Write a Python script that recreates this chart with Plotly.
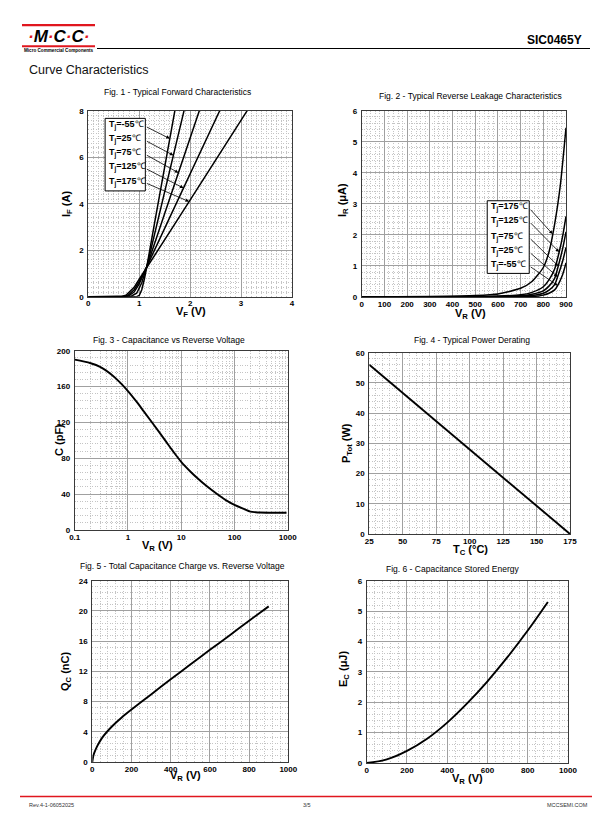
import numpy as np
import plotly.graph_objects as go

W, H = 612, 825
FONT = "Liberation Sans, Arial, sans-serif"

# ---------------- DATA ----------------
# Fig 1 - forward characteristics (VF in V, IF in A)
vf_m55 = [0, 0.95, 1.0, 1.05, 1.1, 1.15, 1.3, 1.5, 1.70]
if_m55 = [0, 0.0, 0.05, 0.3, 0.75, 1.3, 3.15, 5.6, 8.0]
vf_25 = [0, 0.75, 0.85, 0.95, 1.05, 1.15, 1.4, 1.65, 1.88]
if_25 = [0, 0.0, 0.03, 0.15, 0.6, 1.3, 3.6, 5.9, 8.0]
vf_75 = [0, 0.7, 0.8, 0.9, 1.0, 1.15, 1.5, 1.85, 2.18]
if_75 = [0, 0.0, 0.05, 0.2, 0.55, 1.3, 3.58, 5.85, 8.0]
vf_125 = [0, 0.68, 0.78, 0.9, 1.0, 1.15, 1.6, 2.1, 2.58]
if_125 = [0, 0.0, 0.06, 0.3, 0.65, 1.3, 3.41, 5.75, 8.0]
vf_175 = [0, 0.65, 0.75, 0.9, 1.0, 1.15, 1.7, 2.4, 3.12]
if_175 = [0, 0.0, 0.08, 0.4, 0.75, 1.25, 3.13, 5.53, 8.0]
fig1_labels = ["-55", "25", "75", "125", "175"]
fig1_arrow_x = [1.60, 1.67, 1.77, 1.87, 1.98]

# Fig 2 - reverse leakage (VR in V, IR in uA)
vr_175 = [0, 300, 500, 600, 700, 750, 800, 825, 850, 875, 900]
ir_175 = [0, 0.02, 0.05, 0.1, 0.28, 0.5, 0.95, 1.45, 2.35, 3.6, 5.45]
vr_125 = [0, 400, 600, 700, 750, 800, 825, 850, 870, 885, 900]
ir_125 = [0, 0.01, 0.03, 0.07, 0.15, 0.33, 0.55, 0.9, 1.45, 1.95, 2.6]
vr_75 = [0, 500, 700, 750, 800, 825, 850, 866, 885, 900]
ir_75 = [0, 0.01, 0.04, 0.09, 0.2, 0.35, 0.6, 1.0, 1.55, 2.1]
vr_25 = [0, 600, 750, 800, 825, 850, 863, 885, 900]
ir_25 = [0, 0.01, 0.05, 0.12, 0.22, 0.4, 0.65, 1.15, 1.6]
vr_m55 = [0, 650, 780, 800, 825, 850, 863, 885, 900]
ir_m55 = [0, 0.01, 0.03, 0.06, 0.12, 0.23, 0.37, 0.72, 1.1]
fig2_labels = ["175", "125", "75", "25", "-55"]
fig2_arrow_x = [841, 870, 866, 863, 863]

# Fig 3 - capacitance vs reverse voltage
vr_c = [0.1, 0.2, 0.3, 0.5, 0.7, 1, 1.5, 2, 3, 5, 7, 10, 15, 20, 30, 50, 70, 100, 150, 200, 250, 300, 500, 950]
cap = [190, 186, 182, 173, 165, 155, 142, 132, 118, 100, 88, 76, 65, 58, 49, 39, 33, 28, 23.5, 20.5, 19.8, 19.5, 19.3, 19.2]

# Fig 4 - power derating
tc = [25, 175]
ptot = [56, 0]

# Fig 5 - total capacitance charge
vr_q = [0, 5, 10, 25, 50, 100, 150, 200, 300, 400, 500, 600, 700, 800, 900]
qc = [0, 0.8, 1.2, 2.1, 3.2, 4.7, 5.9, 6.95, 8.95, 10.95, 12.9, 14.85, 16.75, 18.7, 20.6]

# Fig 6 - capacitance stored energy
vr_e = [0, 100, 200, 300, 400, 500, 600, 700, 800, 900]
ec = [0, 0.12, 0.40, 0.80, 1.33, 1.97, 2.69, 3.49, 4.36, 5.30]

# ---------------- LAYOUT HELPERS ----------------
def px(x):
    return x / W

def py(y):
    return 1 - y / H

# panel boxes in page pixels: (left, right, top, bottom)
panels = {
    1: (88.3, 292, 110.7, 296.7),
    2: (361.7, 566, 110.7, 297),
    3: (74.7, 287.7, 350.7, 530),
    4: (369.3, 570, 352.7, 534),
    5: (92.3, 288.3, 580.7, 762),
    6: (366.7, 568, 580.7, 763),
}

fig = go.Figure()

def add_line(i, x, y, width=1.6, shape="spline", smoothing=0.6):
    fig.add_trace(go.Scatter(
        x=x, y=y, mode="lines",
        line=dict(color="black", width=width, shape=shape, smoothing=smoothing),
        xaxis="x" if i == 1 else f"x{i}", yaxis="y" if i == 1 else f"y{i}",
        showlegend=False, hoverinfo="skip"))

fig1_series = [(vf_m55, if_m55), (vf_25, if_25), (vf_75, if_75), (vf_125, if_125), (vf_175, if_175)]
for x, y in fig1_series:
    add_line(1, x, y, 1.5, "linear")
fig2_series = [(vr_175, ir_175), (vr_125, ir_125), (vr_75, ir_75), (vr_25, ir_25), (vr_m55, ir_m55)]
for x, y in fig2_series:
    add_line(2, x, y, 1.5)
add_line(3, vr_c, cap, 1.9, smoothing=1.0)
add_line(4, tc, ptot, 1.9, "linear")
add_line(5, vr_q, qc, 1.9)
add_line(6, vr_e, ec, 1.9, smoothing=1.0)

MAJ = "#a0a0a0"
MIN = "#c4c4c4"

def axis(i, horiz, rng, dtick, minor_dtick, tickvals=None, ticktext=None, typ="linear"):
    l, r, t, b = panels[i]
    d = dict(
        range=rng, type=typ, showgrid=True, gridcolor=MAJ, gridwidth=1,
        zeroline=False, showline=True, linecolor="#3a3a3a", linewidth=1, mirror=True,
        ticks="", tickfont=dict(family=FONT, size=8, color="black", weight="bold"),
        minor=dict(showgrid=True, gridcolor=MIN, griddash="1px,1.5px", gridwidth=1, dtick=minor_dtick),
        fixedrange=True, automargin=False,
    )
    if tickvals is not None:
        d.update(tickmode="array", tickvals=tickvals, ticktext=ticktext)
    else:
        d.update(dtick=dtick, tick0=rng[0] if typ == "linear" else None)
    if horiz:
        d.update(domain=[px(l), px(r)], anchor="y" if i == 1 else f"y{i}", ticklabelstandoff=-1)
    else:
        d.update(domain=[py(b), py(t)], anchor="x" if i == 1 else f"x{i}", ticklabelstandoff=2)
    return d

lay = {}
axes_spec = {
    1: (dict(rng=[0, 4], dtick=1, minor_dtick=0.1), dict(rng=[0, 8], dtick=2, minor_dtick=0.2)),
    2: (dict(rng=[0, 900], dtick=100, minor_dtick=20), dict(rng=[0, 6], dtick=1, minor_dtick=0.2)),
    3: (dict(rng=[-1, 3], dtick=1, minor_dtick="D1", typ="log",
             tickvals=[0.1, 1, 10, 100, 1000], ticktext=["0.1", "1", "10", "100", "1000"]),
        dict(rng=[0, 200], dtick=40, minor_dtick=8)),
    4: (dict(rng=[25, 175], dtick=25, minor_dtick=5), dict(rng=[0, 60], dtick=10, minor_dtick=2)),
    5: (dict(rng=[0, 1000], dtick=200, minor_dtick=40), dict(rng=[0, 24], dtick=4, minor_dtick=0.8)),
    6: (dict(rng=[0, 1000], dtick=200, minor_dtick=40), dict(rng=[0, 6], dtick=1, minor_dtick=0.2)),
}
for i, (xs, ys) in axes_spec.items():
    xk = "xaxis" if i == 1 else f"xaxis{i}"
    yk = "yaxis" if i == 1 else f"yaxis{i}"
    lay[xk] = axis(i, True, **xs)
    lay[yk] = axis(i, False, **ys)

annotations = []
shapes = []

def txt(x, y, text, size=8, xanchor="center", weight="normal", color="black", angle=0, style="normal"):
    annotations.append(dict(
        x=px(x), y=py(y), xref="paper", yref="paper", text=text, showarrow=False,
        xanchor=xanchor, yanchor="middle", textangle=angle,
        font=dict(family=FONT, size=size, color=color, weight=weight, style=style)))

# figure titles
TS = 8.5
txt(177, 92.5, "Fig. 1 - Typical Forward Characteristics", TS)
txt(470, 96, "Fig. 2 - Typical Reverse Leakage Characteristics", TS)
txt(168.5, 339.5, "Fig. 3 - Capacitance vs Reverse Voltage", TS)
txt(472, 339.5, "Fig. 4 - Typical Power Derating", TS)
txt(182.5, 565.5, "Fig. 5 - Total Capacitance Charge vs. Reverse Voltage", TS)
txt(452.5, 569, "Fig. 6 - Capacitance Stored Energy", TS)

# axis titles
AT = 11
txt(191, 312, "V<sub>F</sub> (V)", AT, weight="bold")
txt(470, 313.5, "V<sub>R</sub> (V)", AT, weight="bold")
txt(157, 545.5, "V<sub>R</sub> (V)", AT, weight="bold")
txt(470, 549.5, "T<sub>C</sub> (°C)", AT, weight="bold")
txt(185, 775.5, "V<sub>R</sub> (V)", AT, weight="bold")
txt(468, 778.5, "V<sub>R</sub> (V)", AT, weight="bold")
txt(67, 204, "I<sub>F</sub> (A)", AT, weight="bold", angle=-90)
txt(343, 200, "I<sub>R</sub> (μA)", AT, weight="bold", angle=-90)
txt(59, 440, "C (pF)", AT, weight="bold", angle=-90)
txt(347, 443, "P<sub>Tot</sub> (W)", AT, weight="bold", angle=-90)
txt(66, 671, "Q<sub>C</sub> (nC)", AT, weight="bold", angle=-90)
txt(344, 669, "E<sub>C</sub> (μJ)", AT, weight="bold", angle=-90)

# ---------- Fig 1 legend box + arrows ----------
shapes.append(dict(type="rect", xref="x", yref="y", x0=0.33, x1=1.12, y0=4.55, y1=7.67,
                   fillcolor="white", line=dict(color="black", width=1), layer="above"))
fig1_label_y = [7.38, 6.77, 6.17, 5.57, 4.95]
for lab, ly, axx, (sx, sy) in zip(fig1_labels, fig1_label_y, fig1_arrow_x, fig1_series):
    annotations.append(dict(x=0.37, y=ly, xref="x", yref="y", showarrow=False, xanchor="left",
                            yanchor="middle", text=f"<b>T<sub>j</sub>={lab}</b>℃",
                            font=dict(family=FONT, size=9, color="black")))
    tip_y = float(np.interp(axx, sx, sy))
    annotations.append(dict(x=axx, y=tip_y, xref="x", yref="y", ax=1.12, ay=ly - 0.05,
                            axref="x", ayref="y", text="", showarrow=True, arrowhead=2,
                            arrowsize=0.9, arrowwidth=0.8, arrowcolor="black", standoff=0))

# ---------- Fig 2 legend box + arrows ----------
shapes.append(dict(type="rect", xref="x2", yref="y2", x0=553, x1=738, y0=0.76, y1=3.10,
                   fillcolor="white", line=dict(color="black", width=1), layer="above"))
fig2_label_y = [2.89, 2.46, 1.94, 1.48, 1.03]
for lab, ly, axx, (sx, sy) in zip(fig2_labels, fig2_label_y, fig2_arrow_x, fig2_series):
    annotations.append(dict(x=561, y=ly, xref="x2", yref="y2", showarrow=False, xanchor="left",
                            yanchor="middle", text=f"<b>T<sub>j</sub>={lab}</b>℃",
                            font=dict(family=FONT, size=9, color="black")))
    tip_y = float(np.interp(axx, sx, sy))
    annotations.append(dict(x=axx, y=tip_y, xref="x2", yref="y2", ax=738, ay=ly - 0.03,
                            axref="x2", ayref="y2", text="", showarrow=True, arrowhead=2,
                            arrowsize=0.9, arrowwidth=0.8, arrowcolor="black", standoff=0))

# ---------- header ----------
RED = "#e0161e"
def prect(x0, y0, x1, y1, color):
    shapes.append(dict(type="rect", xref="paper", yref="paper", x0=px(x0), x1=px(x1),
                       y0=py(y1), y1=py(y0), fillcolor=color, line=dict(width=0)))
def pline(x0, y0, x1, y1, color, width):
    shapes.append(dict(type="line", xref="paper", yref="paper", x0=px(x0), x1=px(x1),
                       y0=py(y0), y1=py(y1), line=dict(color=color, width=width)))

prect(22, 24, 95, 26.3, RED)
prect(22, 45.3, 95, 47.3, RED)
txt(58.5, 36, "<span style='color:#e0161e'>·</span>M<span style='color:#e0161e'>·</span>C"
             "<span style='color:#e0161e'>·</span>C<span style='color:#e0161e'>·</span>",
    17, weight="bold", style="italic")
txt(22, 51, "Micro Commercial Components", 4.6, xanchor="left", weight="bold")
pline(97, 48.5, 590, 48.5, "black", 1)
txt(584, 40, "SIC0465Y", 12, xanchor="right", weight="bold")
txt(27, 70, "Curve Characteristics", 12.5, xanchor="left", color="#111")

# ---------- footer ----------
pline(20, 796.5, 592, 796.5, RED, 1.3)
txt(27, 805, "Rev.4-1-06052025", 5.5, xanchor="left", color="#333")
txt(306.5, 805, "3/5", 5.5, color="#333")
txt(590, 805, "MCCSEMI.COM", 5.5, xanchor="right", color="#333")

fig.update_layout(
    width=W, height=H, margin=dict(l=0, r=0, t=0, b=0, autoexpand=False),
    paper_bgcolor="white", plot_bgcolor="white",
    showlegend=False, annotations=annotations, shapes=shapes,
    font=dict(family=FONT, color="black"),
    **lay,
)

fig.write_html(
    "out.html",
    config={"displayModeBar": False, "staticPlot": True},
    post_script="document.documentElement.style.margin='0';document.body.style.margin='0';"
                "document.body.style.padding='0';document.body.style.overflow='hidden';",
)
